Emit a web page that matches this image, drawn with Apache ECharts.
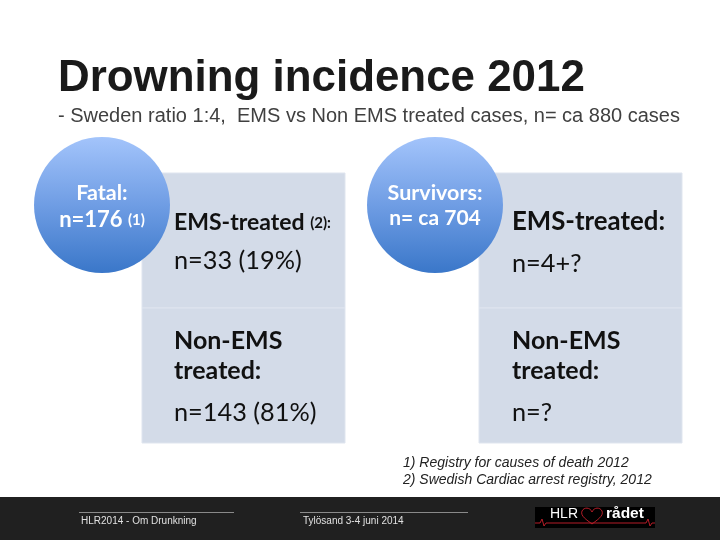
<!DOCTYPE html>
<html>
<head>
<meta charset="utf-8">
<style>html,body{margin:0;padding:0;background:#fff}#main{width:720px;height:540px}</style>
<script src="https://cdn.jsdelivr.net/npm/echarts@6/dist/echarts.min.js"></script>
</head>
<body>
<div id="main"></div>
<script>
var titleText = 'Drowning incidence 2012';
var subtitleText = '- Sweden ratio 1:4,  EMS vs Non EMS treated cases, n= ca 880 cases';
var circleLines = [['Fatal:', 'n=176 (1)'], ['Survivors:', 'n= ca 704']];
var cellHeads = [['EMS-treated (2):', 'Non-EMS\ntreated:'], ['EMS-treated:', 'Non-EMS\ntreated:']];
var cellValues = [['n=33 (19%)', 'n=143 (81%)'], ['n=4+?', 'n=?']];
var footnotes = ['1) Registry for causes of death 2012', '2) Swedish Cardiac arrest registry, 2012'];
var footerTexts = ['HLR2014 - Om Drunkning', 'Tylösand 3-4 juni 2014'];

var bodyFont = 'Lato, "Open Sans", sans-serif';
var sansFont = '"Liberation Sans", Arial, sans-serif';

function txt(x, y, text, size, color, font, extra) {
  var style = { x: x, y: y, text: text, fontSize: size, fill: color, fontFamily: font, verticalAlign: 'middle' };
  for (var k in extra) style[k] = extra[k];
  return { type: 'text', z: 10, style: style };
}

var els = [];

// table blocks
var blockX = [142, 479];
blockX.forEach(function (x) {
  els.push({ type: 'rect', z: 1, shape: { x: x, y: 173, width: 203, height: 135 },
    style: { fill: '#d3dbe8', stroke: '#dfe5ef', lineWidth: 1 } });
  els.push({ type: 'rect', z: 1, shape: { x: x, y: 308, width: 203, height: 135 },
    style: { fill: '#d3dbe8', stroke: '#dfe5ef', lineWidth: 1 } });
});

// circles
var circleX = [102, 435];
circleX.forEach(function (cx) {
  els.push({ type: 'circle', z: 5, shape: { cx: cx, cy: 205, r: 68 },
    style: {
      fill: new echarts.graphic.LinearGradient(0, 0, 0, 1, [
        { offset: 0, color: '#a3c4fb' },
        { offset: 0.5, color: '#6f9de4' },
        { offset: 1, color: '#3a77c9' }
      ])
    } });
});

els.push(txt(58, 79, titleText, 43.9, '#1a1a1a', sansFont, { fontWeight: 'bold' }));
els.push(txt(58, 116, subtitleText, 20, '#404040', sansFont));

// circle texts
els.push(txt(102, 193, circleLines[0][0], 21.5, '#fff', bodyFont, { fontWeight: 'bold', align: 'center' }));
els.push({ type: 'text', z: 10, style: { x: 102, y: 220, text: '{a|n=176 }{b|(1)}', align: 'center', verticalAlign: 'middle',
  rich: { a: { fontSize: 22, fontWeight: 'bold', fill: '#fff', fontFamily: bodyFont }, b: { fontSize: 15, fontWeight: 'bold', fill: '#fff', fontFamily: bodyFont } } } });
els.push(txt(435, 193, circleLines[1][0], 21.5, '#fff', bodyFont, { fontWeight: 'bold', align: 'center' }));
els.push(txt(435, 218, circleLines[1][1], 21, '#fff', bodyFont, { fontWeight: 'bold', align: 'center' }));

// cell texts
els.push({ type: 'text', z: 10, style: { x: 174, y: 223, text: '{a|EMS-treated }{b|(2):}', verticalAlign: 'middle',
  rich: { a: { fontSize: 23, fontWeight: 'bold', fill: '#111', fontFamily: bodyFont }, b: { fontSize: 15, fontWeight: 'bold', fill: '#111', fontFamily: bodyFont } } } });
els.push(txt(174, 261, cellValues[0][0], 25.3, '#111', bodyFont));
els.push(txt(174, 356, cellHeads[0][1], 25, '#111', bodyFont, { fontWeight: 'bold', lineHeight: 30 }));
els.push(txt(174, 413, cellValues[0][1], 25.3, '#111', bodyFont));
els.push(txt(512, 222, cellHeads[1][0], 25.8, '#111', bodyFont, { fontWeight: 'bold' }));
els.push(txt(512, 264, cellValues[1][0], 25.3, '#111', bodyFont));
els.push(txt(512, 356, cellHeads[1][1], 25, '#111', bodyFont, { fontWeight: 'bold', lineHeight: 30 }));
els.push(txt(512, 413, cellValues[1][1], 25.3, '#111', bodyFont));

// footnotes
els.push(txt(403, 463, footnotes[0], 14, '#222', sansFont, { fontStyle: 'italic' }));
els.push(txt(403, 480, footnotes[1], 14, '#222', sansFont, { fontStyle: 'italic' }));

// footer
els.push({ type: 'rect', z: 1, shape: { x: 0, y: 497, width: 720, height: 43 }, style: { fill: '#202020' } });
els.push({ type: 'line', z: 2, shape: { x1: 79, y1: 512.5, x2: 234, y2: 512.5 }, style: { stroke: '#8a8a8a', lineWidth: 1 } });
els.push({ type: 'line', z: 2, shape: { x1: 300, y1: 512.5, x2: 468, y2: 512.5 }, style: { stroke: '#8a8a8a', lineWidth: 1 } });
els.push(txt(81, 521, footerTexts[0], 10, '#e0e0e0', sansFont));
els.push(txt(303, 521, footerTexts[1], 10, '#e0e0e0', sansFont));

// logo
els.push({ type: 'rect', z: 2, shape: { x: 535, y: 507, width: 120, height: 21 }, style: { fill: '#000' } });
els.push(txt(550, 514, 'HLR', 14, '#fff', sansFont));
els.push(txt(606, 514, 'rådet', 15.5, '#fff', sansFont, { fontWeight: 'bold' }));
var redLine = { stroke: '#c8202c', lineWidth: 0.9, fill: 'none' };
els.push({ type: 'polyline', z: 3, shape: { points: [[535, 523], [540, 523], [542, 519], [544, 526], [546, 523], [592, 523]] }, style: redLine });
els.push({ type: 'polyline', z: 3, shape: { points: [[592, 523], [646, 523], [648, 519], [650, 526], [652, 523], [655, 523]] }, style: redLine });
// heart outline
els.push({ type: 'bezierCurve', z: 3, shape: { x1: 592, y1: 524, cpx1: 587, cpy1: 520, cpx2: 580, cpy2: 516, x2: 582, y2: 511 }, style: redLine });
els.push({ type: 'bezierCurve', z: 3, shape: { x1: 582, y1: 511, cpx1: 584, cpy1: 507, cpx2: 590, cpy2: 507, x2: 592, y2: 512 }, style: redLine });
els.push({ type: 'bezierCurve', z: 3, shape: { x1: 592, y1: 524, cpx1: 597, cpy1: 520, cpx2: 604, cpy2: 516, x2: 602, y2: 511 }, style: redLine });
els.push({ type: 'bezierCurve', z: 3, shape: { x1: 602, y1: 511, cpx1: 600, cpy1: 507, cpx2: 594, cpy2: 507, x2: 592, y2: 512 }, style: redLine });

var chart = echarts.init(document.getElementById('main'));
chart.setOption({ backgroundColor: '#fff', animation: false, graphic: { elements: els } });
</script>
</body>
</html>
